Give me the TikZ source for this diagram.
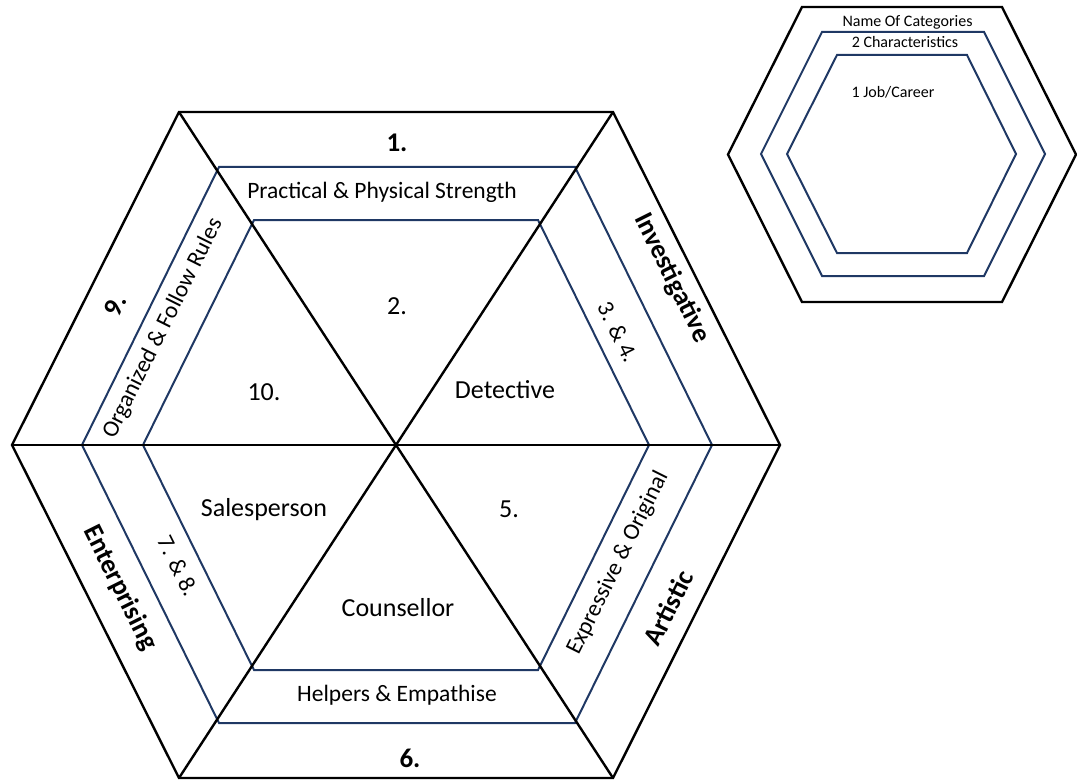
\documentclass[tikz,border=0pt]{standalone}
\usepackage{fontspec}
\setmainfont{Carlito}
\definecolor{navy}{RGB}{31,56,100}
\begin{document}
\begin{tikzpicture}[x=1pt,y=-1pt,
  blk/.style={line width=2.4pt,black,line join=miter},
  blu/.style={line width=2pt,navy,line join=miter},
  band/.style={font=\fontsize{23.5}{28}\selectfont,inner sep=0pt},
  cell/.style={font=\fontsize{26}{30}\selectfont,inner sep=0pt},
  cat/.style={font=\fontsize{27}{32}\selectfont\bfseries,inner sep=0pt},
  leg/.style={font=\fontsize{16}{19}\selectfont,inner sep=0pt}]
\useasboundingbox (0,0) rectangle (1077,781);
% main hexagon vertices
\coordinate (o1) at (179,112); \coordinate (o2) at (613,112);
\coordinate (o3) at (780,445); \coordinate (o4) at (613,778);
\coordinate (o5) at (179,778); \coordinate (o6) at (12,445);
\coordinate (m1) at (219,167); \coordinate (m2) at (575,167);
\coordinate (m3) at (712,445); \coordinate (m4) at (575,723);
\coordinate (m5) at (219,723); \coordinate (m6) at (82,445);
\coordinate (i1) at (254,220); \coordinate (i2) at (538,220);
\coordinate (i3) at (649,445); \coordinate (i4) at (538,670);
\coordinate (i5) at (254,670); \coordinate (i6) at (143,445);
% blue hexagons
\draw[blu] (m1) -- (m2) -- (m3) -- (m4) -- (m5) -- (m6) -- cycle;
\draw[blu] (i1) -- (i2) -- (i3) -- (i4) -- (i5) -- (i6) -- cycle;
% black outer hexagon and diagonals
\draw[blk] (o1) -- (o2) -- (o3) -- (o4) -- (o5) -- (o6) -- cycle;
\draw[blk] (o1) -- (o4);
\draw[blk] (o2) -- (o5);
\draw[blk] (o6) -- (o3);
% category labels
\node[cat] (t1) at (397,143) {1.};
\node[cat] (t6) at (410,758) {6.};
\node[cat,rotate=63.5] (t9) at (115,305) {9.};
\node[cat,rotate=-63.5] (tinv) at (672,278) {Investigative};
\node[cat,rotate=-63.5] (tent) at (120,588) {Enterprising};
\node[cat,rotate=63.5] (tart) at (668,608) {Artistic};
% characteristics
\node[band] (c1) at (382,192) {Practical \& Physical Strength};
\node[band] (c6) at (397,695) {Helpers \& Empathise};
\node[band,rotate=63.5] (c9) at (163,328) {Organized \& Follow Rules};
\node[band,rotate=-63.5] (c34) at (618,332) {3. \& 4.};
\node[band,rotate=-63.5] (c78) at (178,566) {7. \& 8.};
\node[band,rotate=63.5] (c5) at (618,563) {Expressive \& Original};
% jobs
\node[cell] (j2) at (397,306) {2.};
\node[cell] (j10) at (264,392) {10.};
\node[cell] (jdet) at (505,390) {Detective};
\node[cell] (jsal) at (264,510) {Salesperson};
\node[cell] (j5) at (509,509) {5.};
\node[cell] (jcou) at (398,608) {Counsellor};
% legend hexagon
\coordinate (lo1) at (802,7); \coordinate (lo2) at (1002,7);
\coordinate (lo3) at (1076,154.5); \coordinate (lo4) at (1002,302);
\coordinate (lo5) at (802,302); \coordinate (lo6) at (728,154.5);
\coordinate (lm1) at (822,32); \coordinate (lm2) at (984,32);
\coordinate (lm3) at (1045,154); \coordinate (lm4) at (984,276);
\coordinate (lm5) at (822,276); \coordinate (lm6) at (761,154);
\coordinate (li1) at (837,55); \coordinate (li2) at (967,55);
\coordinate (li3) at (1016,154); \coordinate (li4) at (967,253);
\coordinate (li5) at (837,253); \coordinate (li6) at (787,154);
\draw[blk] (lo1) -- (lo2) -- (lo3) -- (lo4) -- (lo5) -- (lo6) -- cycle;
\draw[blu] (lm1) -- (lm2) -- (lm3) -- (lm4) -- (lm5) -- (lm6) -- cycle;
\draw[blu] (li1) -- (li2) -- (li3) -- (li4) -- (li5) -- (li6) -- cycle;
\node[leg] (l1) at (907.5,22) {Name Of Categories};
\node[leg] (l2) at (905,42) {2 Characteristics};
\node[leg] (l3) at (893,92) {1 Job/Career};
\end{tikzpicture}
\end{document}
